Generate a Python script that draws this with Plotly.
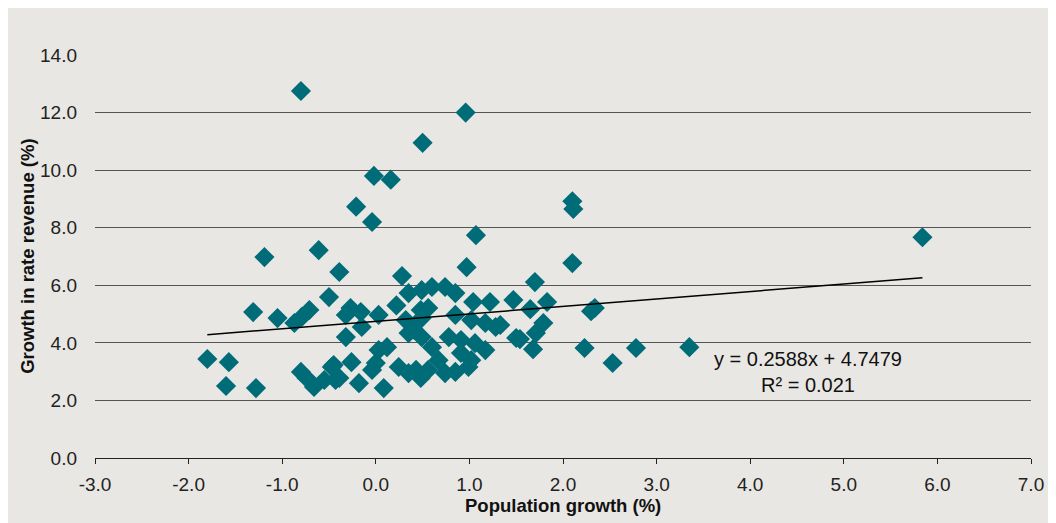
import plotly.graph_objects as go

pop_growth = [
    -0.80, 0.96, 0.50, -0.02, 0.16, -0.21, -0.04, 2.10, 2.11, 1.07, 5.84, -0.61,
    -1.19, 0.97, 2.10, -0.39, 1.70, 0.28,
    -0.50, -1.31, -1.05, -0.87, -0.79, -0.71, -0.27, -0.16, -0.32, -0.15, 0.03,
    -0.32, 0.22, 0.35, 0.49, 0.60, 0.74, 0.85, 0.56, 0.48, 0.32, 0.35, 0.49, 0.41,
    1.04, 1.22, 1.47, 1.65, 1.83, 2.34, 2.30, 0.49, 0.85, 1.02, 1.17, 1.28, 1.33,
    1.79, 1.71, 1.54, 1.50, 0.78, 0.91, 1.06, 0.60, 1.17, 0.91, 1.02, 0.67, 1.68,
    2.23, 2.78, 3.35, 2.53,
    -1.80, -1.57, -1.60, -1.28, -0.80, -0.74, -0.66, -0.55, -0.45, -0.43, -0.26,
    -0.47, -0.39, -0.18, -0.04, 0.00, 0.03, 0.12, 0.085, 0.245, 0.35, 0.43, 0.56,
    0.74, 0.85, 0.99, 0.48,
]
rate_rev_growth = [
    12.75, 12.00, 10.95, 9.80, 9.67, 8.73, 8.20, 8.92, 8.65, 7.74, 7.67, 7.22,
    6.98, 6.63, 6.77, 6.46, 6.11, 6.32,
    5.59, 5.07, 4.86, 4.69, 4.90, 5.14, 5.21, 5.07, 4.97, 4.55, 4.97,
    4.20, 5.30, 5.73, 5.83, 5.94, 5.94, 5.73, 5.21, 5.14, 4.79, 4.34, 4.20, 4.45,
    5.42, 5.42, 5.49, 5.17, 5.42, 5.21, 5.10, 4.86, 4.97, 4.79, 4.69, 4.55, 4.62,
    4.69, 4.34, 4.13, 4.17, 4.20, 4.10, 3.99, 3.85, 3.75, 3.65, 3.40, 3.40, 3.78,
    3.82, 3.82, 3.85, 3.30,
    3.44, 3.33, 2.50, 2.43, 2.99, 2.78, 2.47, 2.71, 3.23, 2.71, 3.33,
    3.16, 2.78, 2.60, 3.06, 3.30, 3.75, 3.85, 2.43, 3.16, 2.95, 3.06, 3.06,
    2.95, 2.99, 3.16, 2.78,
]

trend_slope = 0.2588
trend_intercept = 4.7479
r_squared = 0.021

x_ticks = [-3, -2, -1, 0, 1, 2, 3, 4, 5, 6, 7]
y_ticks = [0, 2, 4, 6, 8, 10, 12, 14]

BG = "#E9E7E3"
TEAL = "#006C78"
FONT = "Liberation Sans"

fig = go.Figure()

fig.add_trace(go.Scatter(
    x=pop_growth, y=rate_rev_growth, mode="markers",
    marker=dict(symbol="diamond", size=15.5, color=TEAL, line=dict(width=0)),
    hoverinfo="x+y", showlegend=False,
))

x_lo, x_hi = min(pop_growth), max(pop_growth)
fig.add_trace(go.Scatter(
    x=[x_lo, x_hi],
    y=[trend_slope * x_lo + trend_intercept, trend_slope * x_hi + trend_intercept],
    mode="lines", line=dict(color="#000000", width=1.5),
    hoverinfo="skip", showlegend=False,
))

fig.add_annotation(
    x=4.62, y=2.99, xref="x", yref="y",
    text=f"y = {trend_slope}x + {trend_intercept}<br>R² = {r_squared}",
    showarrow=False, align="center",
    font=dict(family=FONT, size=20, color="#111111"),
)

fig.add_annotation(
    x=-0.0723, y=0.5, xref="paper", yref="paper",
    text="<b>Growth in rate revenue (%)</b>", textangle=-90,
    showarrow=False, xanchor="center", yanchor="middle",
    font=dict(family=FONT, size=18.5, color="#111111"),
)
fig.add_annotation(
    x=0.5, y=-0.119, xref="paper", yref="paper",
    text="<b>Population growth (%)</b>",
    showarrow=False, xanchor="center", yanchor="middle",
    font=dict(family=FONT, size=18.5, color="#111111"),
)

fig.update_layout(
    width=1048, height=515,
    margin=dict(l=87, r=19, t=47, b=65),
    paper_bgcolor=BG, plot_bgcolor=BG,
    font=dict(family=FONT, size=19, color="#222222"),
    xaxis=dict(
        range=[-3, 7], tickvals=x_ticks,
        ticktext=[f"{v:.1f}" for v in x_ticks],
        showgrid=False, zeroline=False,
        showline=True, linecolor="#222222", linewidth=1,
        ticks="outside", ticklen=5, tickcolor="#222222",
        ticklabelstandoff=4,
    ),
    yaxis=dict(
        range=[0, 14], tickvals=y_ticks,
        ticktext=[f"{v:.1f}" for v in y_ticks],
        showgrid=True, gridcolor="#555555", gridwidth=1.2,
        zeroline=False, showline=False, ticks="",
        ticklabelstandoff=17,
    ),
)

fig.write_html("out.html")
